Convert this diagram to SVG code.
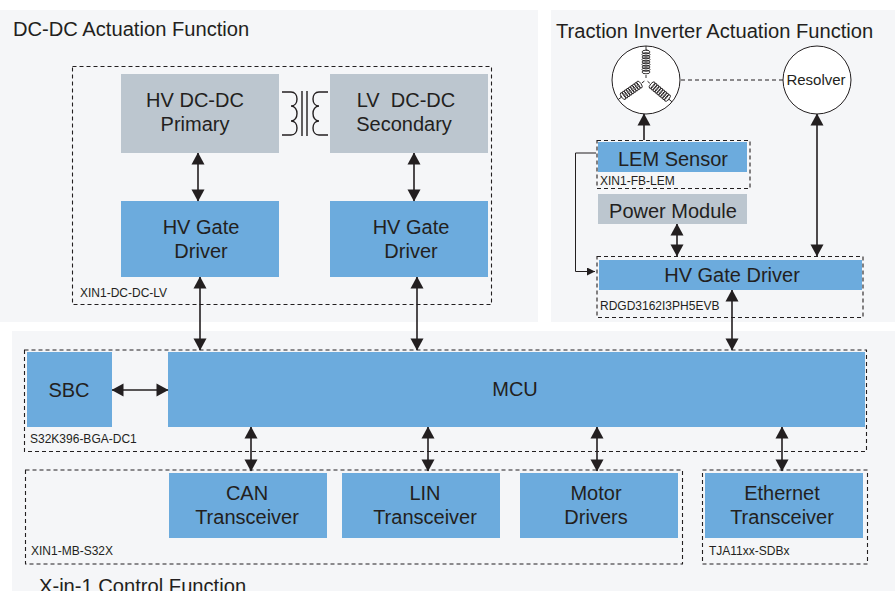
<svg xmlns="http://www.w3.org/2000/svg" width="895" height="591" viewBox="0 0 895 591">
<style>
text{font-family:"Liberation Sans",Arial,sans-serif;fill:#231f20}
.panel{fill:#f5f6f8}
.blue{fill:#6cabdd}
.grey{fill:#bcc6cf}
.t{font-size:20px;text-anchor:middle;white-space:pre}
.h{font-size:20.15px}
.s{font-size:12px}
.dash{fill:none;stroke:#231f20;stroke-width:1.1;stroke-dasharray:4 3}
.c2{fill:none;stroke:#231f20;stroke-width:1.6;marker-start:url(#a);marker-end:url(#a)}
.c1{fill:none;stroke:#231f20;stroke-width:1.6;marker-end:url(#a)}
.thin{fill:none;stroke:#231f20;stroke-width:1}
.coil{fill:none;stroke:#231f20;stroke-width:.9}
</style>
<defs>
<marker id="a" viewBox="0 0 13 14" refX="12.500" refY="7" markerWidth="13" markerHeight="14" markerUnits="userSpaceOnUse" orient="auto-start-reverse"><path d="M1 .5L13 7L1 13.500Z" fill="#231f20"/></marker>
<marker id="b" viewBox="0 0 8 8" refX="8" refY="4" markerWidth="8" markerHeight="8" markerUnits="userSpaceOnUse" orient="auto"><path d="M0 0L8 4L0 8Z" fill="#231f20"/></marker>
<g id="coil" class="coil">
<path d="M0 -34V-30H1.500M0 -5V-2"/>
<ellipse cx="0" cy="-28" rx="4" ry="1.800"/><ellipse cx="0" cy="-25.500" rx="4" ry="1.800"/><ellipse cx="0" cy="-23" rx="4" ry="1.800"/><ellipse cx="0" cy="-20.500" rx="4" ry="1.800"/><ellipse cx="0" cy="-18" rx="4" ry="1.800"/><ellipse cx="0" cy="-15.500" rx="4" ry="1.800"/><ellipse cx="0" cy="-13" rx="4" ry="1.800"/><ellipse cx="0" cy="-10.500" rx="4" ry="1.800"/><ellipse cx="0" cy="-8" rx="4" ry="1.800"/>
</g>
</defs>
<rect class="panel" x="0" y="10" width="538" height="312"/>
<rect class="panel" x="551" y="10" width="344" height="312"/>
<rect class="panel" x="12" y="331" width="883" height="260"/>
<text class="h" x="13" y="36">DC-DC Actuation Function</text>
<text class="h" x="556" y="38">Traction Inverter Actuation Function</text>
<text class="h" x="39" y="593">X-in-1 Control Function</text>
<g id="dc-dc-board"><rect class="dash" x="72.500" y="66.500" width="419" height="238"/><text class="s" x="80" y="297">XIN1-DC-DC-LV</text></g>
<g id="lem-board"><rect class="dash" x="597" y="140.500" width="153" height="48"/><text class="s" x="600" y="185">XIN1-FB-LEM</text></g>
<g id="gate-board"><rect class="dash" x="597" y="256.500" width="266" height="61"/><text class="s" x="600" y="310">RDGD3162I3PH5EVB</text></g>
<g id="s32k-board"><rect class="dash" x="24.500" y="350" width="842" height="101.500"/><text class="s" x="30" y="443">S32K396-BGA-DC1</text></g>
<g id="mb-board"><rect class="dash" x="25.500" y="470" width="657" height="94"/><text class="s" x="31" y="555">XIN1-MB-S32X</text></g>
<g id="tja-board"><rect class="dash" x="702.500" y="470" width="165" height="94"/><text class="s" x="709" y="555">TJA11xx-SDBx</text></g>
<g id="hv-primary"><rect class="grey" x="121" y="74" width="158" height="79"/><text class="t" x="195" y="107">HV DC-DC</text><text class="t" x="195" y="131">Primary</text></g>
<g id="lv-secondary"><rect class="grey" x="330" y="74" width="158" height="79"/><text class="t" x="406" y="107">LV  DC-DC</text><text class="t" x="404" y="131">Secondary</text></g>
<g id="transformer" stroke="#231f20" fill="none" stroke-width="1.4">
<path d="M282 92H291c8 0 8 14 0 14c8 0 8 15 0 15c8 0 8 14 0 14H282"/>
<path d="M328 92H319c-8 0-8 14 0 14c-8 0-8 15 0 15c-8 0-8 14 0 14H328"/>
<path d="M302 91V136M307 91V136"/></g>
<g id="gate-1"><rect class="blue" x="121" y="201" width="158" height="76"/><text class="t" x="201" y="234">HV Gate</text><text class="t" x="201" y="258">Driver</text></g>
<g id="gate-2"><rect class="blue" x="330" y="201" width="158" height="76"/><text class="t" x="411" y="234">HV Gate</text><text class="t" x="411" y="258">Driver</text></g>
<g id="motor"><circle cx="646" cy="80" r="34" fill="#fff" stroke="#231f20" stroke-width="1"/>
<use href="#coil" transform="translate(646 80)"/><use href="#coil" transform="translate(646 80) rotate(130)"/><use href="#coil" transform="translate(646 80) rotate(235)"/></g>
<g id="resolver"><circle cx="817" cy="80" r="34" fill="#fff" stroke="#231f20" stroke-width="1"/><text x="816" y="85" font-size="15" text-anchor="middle">Resolver</text></g>
<g id="lem-sensor"><rect class="blue" x="598" y="142" width="149" height="30"/><text class="t" x="673" y="166">LEM Sensor</text></g>
<g id="power-module"><rect class="grey" x="598" y="194" width="149" height="30"/><text class="t" x="673" y="218">Power Module</text></g>
<g id="hv-gate-driver"><rect class="blue" x="599" y="260" width="263" height="30"/><text class="t" x="732" y="282">HV Gate Driver</text></g>
<g id="sbc"><rect class="blue" x="27" y="352" width="85" height="75"/><text class="t" x="69" y="397">SBC</text></g>
<g id="mcu"><rect class="blue" x="168" y="352" width="697" height="75"/><text class="t" x="515" y="396">MCU</text></g>
<g id="can"><rect class="blue" x="169" y="473" width="158" height="65"/><text class="t" x="247" y="500">CAN</text><text class="t" x="247" y="524">Transceiver</text></g>
<g id="lin"><rect class="blue" x="342" y="473" width="158" height="65"/><text class="t" x="425" y="500">LIN</text><text class="t" x="425" y="524">Transceiver</text></g>
<g id="motor-drivers"><rect class="blue" x="520" y="473" width="158" height="65"/><text class="t" x="596" y="500">Motor</text><text class="t" x="596" y="524">Drivers</text></g>
<g id="ethernet"><rect class="blue" x="705" y="473" width="158" height="65"/><text class="t" x="782" y="500">Ethernet</text><text class="t" x="782" y="524">Transceiver</text></g>
<g id="connectors">
<path class="c2" d="M198 153V201"/>
<path class="c2" d="M414 153V201"/>
<path class="c2" d="M200 277V350"/>
<path class="c2" d="M417 277V350"/>
<path class="c2" d="M732 290V350"/>
<path class="c2" d="M677 224V256"/>
<path class="c2" d="M817 114V256"/>
<path class="c1" d="M644 140V114"/>
<path class="c2" d="M112 390H168"/>
<path class="c2" d="M251 427V471"/>
<path class="c2" d="M428 427V471"/>
<path class="c2" d="M597 427V471"/>
<path class="c2" d="M782 427V471"/>
<path d="M596 153H575.500V271.500H595" class="thin" marker-end="url(#b)"/>
<path d="M681 80H783" class="thin" stroke-dasharray="4 3"/>
</g>
</svg>
